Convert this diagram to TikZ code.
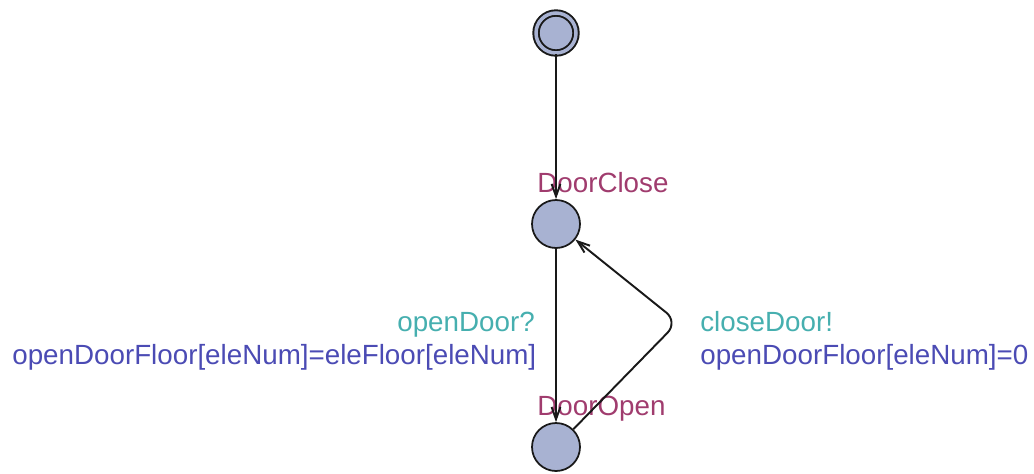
\documentclass[tikz,border=0pt]{standalone}
\usepackage{fontspec}
\setmainfont{Liberation Sans}
\usetikzlibrary{positioning}
\usetikzlibrary{arrows.meta}
\definecolor{locfill}{RGB}{168,178,210}
\definecolor{namecol}{RGB}{160,60,110}
\definecolor{synccol}{RGB}{70,175,175}
\definecolor{updcol}{RGB}{75,75,180}
\tikzset{
    loc/.style = {circle, line width=1pt, draw=black!90, fill=locfill, minimum size=0.96cm, inner sep=0pt},
    initloc/.style = {circle, line width=1.1pt, draw=black!90, fill=locfill, double=locfill, double distance=0.07cm, minimum size=0.8cm, inner sep=0pt},
    edgen/.style = {-{Straight Barb[length=7pt,width=5pt]}, line width=1.1pt, black!90},
    lname/.style = {anchor=base west, inner sep=0pt, text=namecol}, % location names
    lsync/.style = {anchor=base west, inner sep=0pt, text=synccol}, % channel
    lupd/.style = {anchor=base west, inner sep=0pt, text=updcol}, % assignment
    every picture/.style={font issue=\fontsize{15.8}{18}},
    font issue/.style={execute at begin picture={#1\selectfont}}
}

\begin{document}
\begin{tikzpicture}
\useasboundingbox (0,0) rectangle (20.68,-9.46);
\node[initloc] at (11.12, -0.66) (init) {};
\node[loc] at (11.12, -4.48) (close) {};
\node[loc] at (11.12, -8.94) (open) {};
\coordinate (nail) at (13.56, -6.44);
%
\node[lname] at (10.74, -3.84) (closename) {DoorClose};
\node[lname] at (10.74, -8.30) (openname) {DoorOpen};
\node[lsync] at (7.94, -6.63) (syncopen) {openDoor?};
\node[lupd] at (0.24, -7.29) (updopen) {openDoorFloor[eleNum]=eleFloor[eleNum]};
\node[lsync] at (14.00, -6.63) (syncclose) {closeDoor!};
\node[lupd] at (14.00, -7.29) (updclose) {openDoorFloor[eleNum]=0};
%
\draw[edgen] (init) -- (close);
\draw[edgen] (close) -- (open);
\draw[edgen, rounded corners=0.3cm] (open) -- (nail) -- (close);

\end{tikzpicture}
\end{document}
